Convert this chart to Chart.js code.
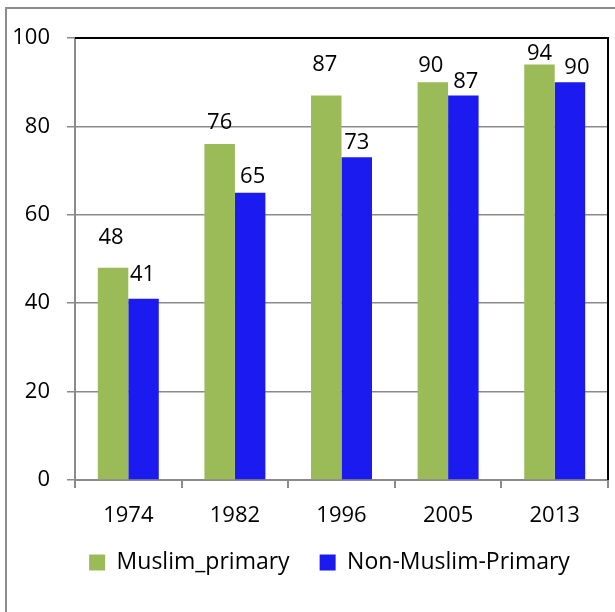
<!DOCTYPE html>
<html>
<head>
<meta charset="utf-8">
<script src="https://cdn.jsdelivr.net/npm/chart.js@4.4.1/dist/chart.umd.min.js"></script>
<style>
  html, body { margin:0; padding:0; background:#fff; overflow:hidden; }
  #wrap { position:relative; width:615px; height:612px; overflow:hidden; }
  #frame { position:absolute; left:5px; top:7px; width:700px; height:700px; border:2px solid #8c8c8c; }
  #enrolChart { position:absolute; left:0; top:0; }
</style>
</head>
<body>
<div id="wrap">
  <div id="frame"></div>
  <canvas id="enrolChart" width="615" height="612"></canvas>
</div>
<script>
/* ---------- data ---------- */
const years = ["1974", "1982", "1996", "2005", "2013"];
const muslimPrimary = [48, 76, 87, 90, 94];
const nonMuslimPrimary = [41, 65, 73, 87, 90];
const yTicks = [0, 20, 40, 60, 80, 100];

const FONT = "'Open Sans', 'Noto Sans', sans-serif";
const GRID = "#8a8a8a";

/* value labels sit at hand-placed heights above each bar */
const valueLabels = {
  id: "valueLabels",
  afterDatasetsDraw(chart, args, opts) {
    const ctx = chart.ctx;
    ctx.save();
    ctx.font = "22px " + FONT;
    ctx.fillStyle = "#000";
    ctx.textAlign = "center";
    ctx.textBaseline = "alphabetic";
    chart.data.datasets.forEach((ds, i) => {
      chart.getDatasetMeta(i).data.forEach((bar, j) => {
        const lift = opts.lift[i][j];
        const shift = opts.shift[i][j];
        ctx.fillText(String(ds.data[j]), bar.x + shift, bar.y - lift);
      });
    });
    ctx.restore();
  }
};

/* black border along top and right of the plot */
const plotEdge = {
  id: "plotEdge",
  beforeDatasetsDraw(chart) {
    const { ctx, chartArea: a } = chart;
    ctx.save();
    ctx.strokeStyle = "#000";
    ctx.lineWidth = 2;
    ctx.beginPath();
    ctx.moveTo(a.left, a.top);
    ctx.lineTo(a.right, a.top);
    ctx.lineTo(a.right, a.bottom);
    ctx.stroke();
    ctx.restore();
  }
};

/* legend centred under the plot rather than the whole canvas */
const legendSpot = {
  id: "legendSpot",
  afterLayout(chart, args, opts) {
    const lg = chart.legend;
    if (!lg) return;
    lg.left = chart.chartArea.left - 24;
    lg.top = opts.top;
  }
};

new Chart(document.getElementById("enrolChart"), {
  type: "bar",
  data: {
    labels: years,
    datasets: [
      {
        label: "Muslim_primary",
        data: muslimPrimary,
        backgroundColor: "#9bbb59"
      },
      {
        label: "Non-Muslim-Primary",
        data: nonMuslimPrimary,
        backgroundColor: "#1b1bf0"
      }
    ]
  },
  options: {
    responsive: false,
    devicePixelRatio: 1,
    animation: false,
    categoryPercentage: 0.572,
    barPercentage: 1,
    layout: {
      padding: { left: 0, right: 7, top: 38, bottom: 24 }
    },
    plugins: {
      tooltip: { enabled: false },
      legend: {
        position: "bottom",
        labels: {
          boxWidth: 16,
          boxHeight: 16,
          padding: 30,
          color: "#000",
          font: { family: FONT, size: 23 }
        }
      },
      legendSpot: { top: 521 },
      valueLabels: {
        lift: [[24, 15, 24, 10, 5], [18, 10, 8, 7, 8]],
        shift: [[-2, 0, -1.5, -2, 0], [-1, 2.5, 0, 2.5, 7]]
      }
    },
    scales: {
      x: {
        afterFit(scale) { scale.height = 45; },
        grid: {
          offset: true,
          drawOnChartArea: false,
          color: GRID,
          lineWidth: 2,
          tickLength: 8
        },
        border: { color: GRID, width: 2 },
        ticks: {
          color: "#000",
          padding: 15,
          font: { family: FONT, size: 22 }
        }
      },
      y: {
        min: 0,
        max: 100,
        afterFit(scale) { scale.width = 75; },
        afterBuildTicks(scale) {
          scale.ticks = yTicks.map(v => ({ value: v }));
        },
        grid: {
          color: GRID,
          lineWidth: 1.5,
          tickLength: 8
        },
        border: { color: GRID, width: 2 },
        ticks: {
          color: "#000",
          padding: 17,
          font: { family: FONT, size: 22 }
        }
      }
    }
  },
  plugins: [plotEdge, valueLabels, legendSpot]
});
</script>
</body>
</html>
